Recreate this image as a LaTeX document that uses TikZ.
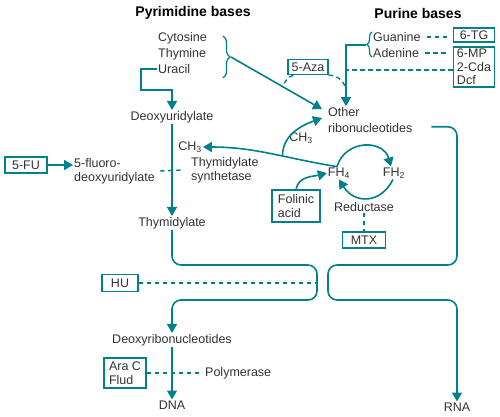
\documentclass[tikz,border=0pt]{standalone}
\usepackage{fontspec}
\setmainfont{Liberation Sans}
\usetikzlibrary{positioning}
\usetikzlibrary{calc}
\usetikzlibrary{arrows.meta}
\usetikzlibrary{decorations.pathreplacing}
\definecolor{teal}{RGB}{0,128,138}
\definecolor{ink}{RGB}{50,50,50}

\begin{document}
\begin{tikzpicture}[
    x=1pt, y=1pt,
    lbl/.style={font=\fontsize{12.5}{14}\selectfont, text=ink, inner sep=1pt, align=left},
    head/.style={font=\fontsize{14}{16}\selectfont\bfseries, text=black},
    drug/.style={draw=teal, line width=1.3pt, font=\fontsize{12.5}{13.5}\selectfont, text=ink,
                 inner sep=2pt, align=left},
    arrow/.style={-{Triangle[length=9pt,width=10pt]}, line width=1.6pt, teal},
    inhibit/.style={line width=1.4pt, teal, dash pattern=on 4.5pt off 3.5pt},
    bracket/.style={teal, line width=1.2pt, decorate}
]
    \useasboundingbox (0,0) rectangle (500,416);

    \node[head] (pyr) at (193,403) {Pyrimidine bases};
    \node[head] (pur) at (418,403) {Purine bases};

    \node[lbl, anchor=west] (cyt) at (157,378) {Cytosine};
    \node[lbl, anchor=west] (thy) at (157,362) {Thymine};
    \node[lbl, anchor=west] (ura) at (157,347) {Uracil};
    \node[lbl] (duri) at (172,299) {Deoxyuridylate};
    \node[lbl] (thyd) at (172,193) {Thymidylate};
    \node[drug, minimum width=42pt, minimum height=16pt] (fu) at (26,251) {5-FU};
    \node[lbl, anchor=west] (fdu) at (73,245) {5-fluoro-\\deoxyuridylate};
    \node[lbl, anchor=west] (ts) at (190,246) {Thymidylate\\synthetase};
    \node[lbl] (ch3a) at (190,269) {CH\textsubscript{3}};

    \node[lbl, anchor=west, font=\fontsize{12.5}{16}\selectfont] (ribo) at (327,296) {Other\\ribonucleotides};
    \node[lbl] (ch3b) at (301,278) {CH\textsubscript{3}};
    \node[lbl] (fh4) at (339,243) {FH\textsubscript{4}};
    \node[lbl] (fh2) at (394,243) {FH\textsubscript{2}};
    \node[lbl] (redu) at (364,209) {Reductase};
    \node[drug, minimum width=43pt, minimum height=16pt] (mtx) at (364,176) {MTX};
    \node[drug, minimum width=48pt, minimum height=32pt] (fol) at (296,210) {Folinic\\acid};
    \node[drug, minimum width=40pt, minimum height=15pt] (aza) at (308,349) {5-Aza};

    \node[lbl, anchor=west] (gua) at (372,379) {Guanine};
    \node[lbl, anchor=west] (ade) at (372,363) {Adenine};
    \node[drug, minimum width=41pt, minimum height=14pt] (tg) at (474,381) {6-TG};
    \node[drug, minimum width=41pt] (mp) at (474,349) {6-MP\\2-Cda\\Dcf};

    \node[drug, minimum width=36pt, minimum height=17pt] (hu) at (120,133) {HU};
    \node[lbl] (dnuc) at (172,76) {Deoxyribonucleotides};
    \node[lbl] (dna) at (172,11) {DNA};
    \node[drug, minimum width=42pt, minimum height=30pt] (ara) at (125,43) {Ara C\\Flud};
    \node[lbl, anchor=west] (pol) at (204,43) {Polymerase};
    \node[lbl] (rna) at (457,9) {RNA};

    \draw[bracket, decoration={brace, amplitude=7pt}] (223,380) -- (223,338);
    \coordinate (pbr) at (231,359);
    \draw[bracket, decoration={brace, amplitude=5pt}] (372,359) -- (372,384);
    \coordinate (ubr) at (366,371);
    \coordinate (azar) at (346,324);
    \coordinate (hubar) at (317,133);

    \draw[arrow] (ura.west) -| (141,326) -| (duri.north);
    \draw[arrow] (duri) -- (thyd);
    \draw[arrow] (fu) -- (fdu.west |- fu);
    \draw[inhibit] ([xshift=4pt]fdu.east) -- ([xshift=-7pt]ts.west);

    \draw[arrow] ([xshift=-2pt]fh4.north) to[out=171, in=0] coordinate[pos=0.4] (meth) (ch3a.east);
    \draw[arrow] (meth) to[out=90, in=200] ([xshift=-5pt, yshift=2pt]ribo.west);
    \draw[arrow] (pbr) -- coordinate[pos=0.57] (azal) ([xshift=-5pt, yshift=-3pt]ribo.north west);
    \draw[arrow] (ubr) -| ([xshift=19pt]ribo.north west);

    \draw[inhibit] ([xshift=5pt]gua.east) -- ([xshift=-6pt]tg.west |- gua.east);
    \draw[inhibit] ([xshift=5pt]ade.east) -- ([xshift=-6pt]mp.west |- ade.east);
    \draw[inhibit] ([yshift=-3pt]mp.west) -- ++(-107,0);
    \draw[inhibit] ([xshift=6pt]aza.south west) to[out=200, in=70] (azal);
    \draw[inhibit] (aza.south east) to[out=0, in=90] (azar);

    \draw[arrow] ([xshift=-2pt]fh4.north) to[out=73, in=106, looseness=1.35] ([xshift=-3pt]fh2.north);
    \draw[arrow] ([xshift=-1pt]fh2.south) to[out=-117, in=-58, looseness=1.35] (fh4.south);
    \draw[arrow] (fol.north) to[out=80, in=195] (fh4.west);
    \draw[inhibit] (redu.south) -- (mtx.north);

    \draw[arrow, rounded corners=9pt] (thyd.south) |- (317,151) |- (172,116) -- (dnuc.north);
    \draw[arrow, rounded corners=9pt] ([xshift=18pt, yshift=7pt]ribo.south east) -| (457,151) -| (328,116) -| (rna.north);
    \draw[inhibit] (hu.east) -- (hubar);

    \draw[arrow] (dnuc) -- (dna);
    \draw[inhibit] (ara.east) -- ([xshift=-4pt]pol.west);
\end{tikzpicture}
\end{document}
